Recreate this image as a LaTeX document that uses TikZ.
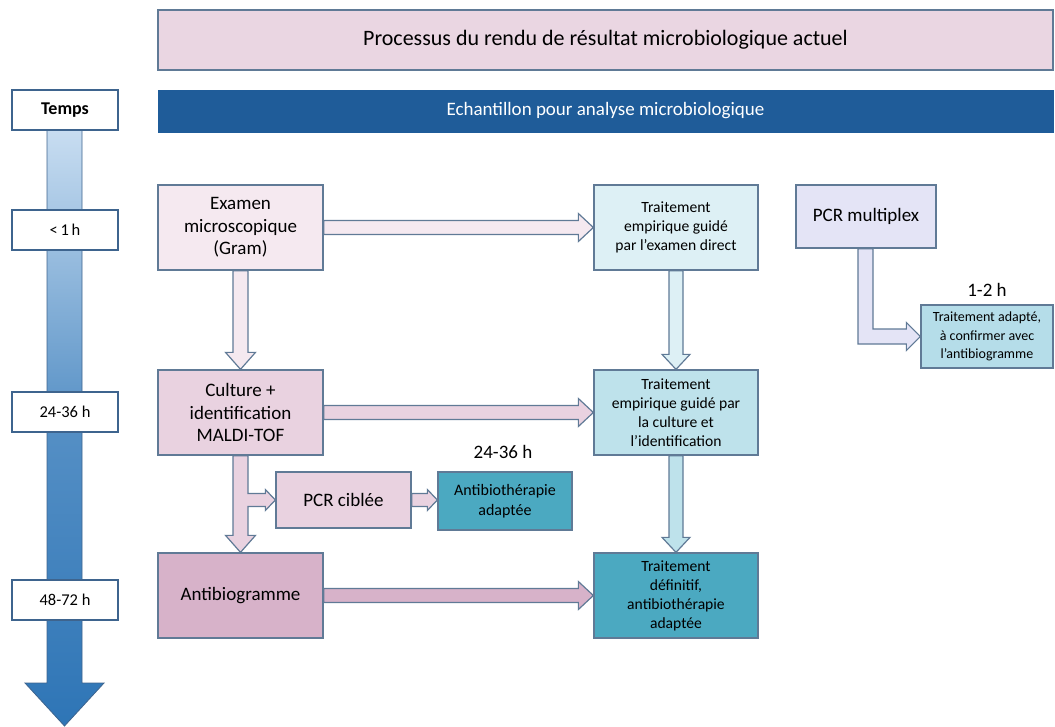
\documentclass[tikz,border=0pt]{standalone}
\usepackage{fontspec}
\setmainfont{Carlito}
\usepackage{xcolor}
\usetikzlibrary{calc}
\definecolor{titlepink}{RGB}{234, 214, 226}
\definecolor{barblue}{RGB}{31, 92, 153}
\definecolor{boxline}{RGB}{96, 122, 150}
\definecolor{timeline}{RGB}{62, 100, 142}
\definecolor{timelight}{RGB}{200, 221, 241}
\definecolor{timedark}{RGB}{46, 117, 182}
\definecolor{examenpink}{RGB}{245, 233, 240}
\definecolor{culturepink}{RGB}{233, 210, 224}
\definecolor{antibiomauve}{RGB}{215, 178, 201}
\definecolor{tempcyan}{RGB}{221, 240, 245}
\definecolor{culturecyan}{RGB}{190, 226, 235}
\definecolor{adaptteal}{RGB}{75, 169, 193}
\definecolor{multilav}{RGB}{228, 228, 246}
\definecolor{quickcyan}{RGB}{181, 221, 233}

% horizontal block arrow: from, to, fill, half shaft, half head, head length
\newcommand{\hblock}[6]{%
  \draw[blockline,fill=#3] let \p1=(#1), \p2=(#2) in
    (\x1,\y1+#4pt) -- (\x2-#6pt,\y1+#4pt) -- (\x2-#6pt,\y1+#5pt) -- (\x2,\y1)
    -- (\x2-#6pt,\y1-#5pt) -- (\x2-#6pt,\y1-#4pt) -- (\x1,\y1-#4pt) -- cycle;}
% vertical block arrow (downwards)
\newcommand{\vblock}[6]{%
  \draw[blockline,fill=#3] let \p1=(#1), \p2=(#2) in
    (\x1-#4pt,\y1) -- (\x1-#4pt,\y2+#6pt) -- (\x1-#5pt,\y2+#6pt) -- (\x1,\y2)
    -- (\x1+#5pt,\y2+#6pt) -- (\x1+#4pt,\y2+#6pt) -- (\x1+#4pt,\y1) -- cycle;}

\begin{document}
\begin{tikzpicture}[x=1pt,y=-1pt,
    box/.style={draw=boxline,line width=1.3pt,align=center,inner sep=2pt},
    leftbox/.style={box,minimum width=165pt,minimum height=85pt,font=\fontsize{19}{22.5}\selectfont},
    treatbox/.style={box,minimum width=164pt,minimum height=85pt,font=\fontsize{15.6}{19}\selectfont},
    timebox/.style={draw=timeline,line width=1.2pt,fill=white,minimum width=106pt,minimum height=40pt,font=\fontsize{16.5}{19}\selectfont},
    delai/.style={font=\fontsize{19}{22}\selectfont},
    blockline/.style={draw=boxline,line width=1.2pt,line join=miter}]
  \useasboundingbox (0,0) rectangle (1055,726);

  % time axis
  \draw[draw=timeline,line width=0.8pt,top color=timelight,bottom color=timedark,middle color=timedark!75!timelight]
    (47,130) -- (47,683) -- (25,683) -- (64.5,726) -- (104,683) -- (82,683) -- (82,130) -- cycle;
  \node[timebox,font=\fontsize{18}{21}\selectfont\bfseries] (temps) at (65,110) {Temps};
  \node[timebox] (tone) at (65,230) {<\,1\,h};
  \node[timebox] (ttwo) at (65,412) {24-36 h};
  \node[timebox] (tthree) at (65,600) {48-72 h};

  % headers
  \node[box,fill=titlepink,minimum width=895pt,minimum height=60pt,font=\fontsize{22}{26}\selectfont] (title) at (605.5,40) {Processus du rendu de résultat microbiologique actuel};
  \node[draw=barblue,fill=barblue,text=white,minimum width=895pt,minimum height=42pt,font=\fontsize{19}{22}\selectfont] (echant) at (605.5,111) {Echantillon pour analyse microbiologique};

  % boxes
  \node[leftbox,fill=examenpink] (examen) at (240.5,227.5) {Examen\\microscopique\\(Gram)};
  \node[leftbox,fill=culturepink] (culture) at (240.5,412.5) {Culture +\\identification\\MALDI-TOF};
  \node[leftbox,fill=antibiomauve] (antibiogramme) at (240.5,595.5) {Antibiogramme};
  \node[treatbox,fill=tempcyan] (empdirect) at (676,227.5) {Traitement\\empirique guidé\\par l’examen direct};
  \node[treatbox,fill=culturecyan] (empculture) at (676,412.5) {Traitement\\empirique guidé par\\la culture et\\l’identification};
  \node[treatbox,fill=adaptteal] (definitif) at (676,595.5) {Traitement\\définitif,\\antibiothérapie\\adaptée};
  \node[box,fill=culturepink,minimum width=135pt,minimum height=56pt,font=\fontsize{19}{22}\selectfont] (pcrciblee) at (343.5,500) {PCR ciblée};
  \node[box,fill=adaptteal,minimum width=134pt,minimum height=58pt,font=\fontsize{16}{19.5}\selectfont] (antibiotherapie) at (505,501) {Antibiothérapie\\adaptée};
  \node[box,fill=multilav,minimum width=140pt,minimum height=63pt,font=\fontsize{19}{22}\selectfont] (pcrmultiplex) at (866,216.5) {PCR multiplex};
  \node[box,fill=quickcyan,minimum width=132pt,minimum height=63pt,font=\fontsize{14}{18.5}\selectfont] (adapte) at (987,336.5) {Traitement adapté,\\à confirmer avec\\l’antibiogramme};

  \node[delai] (delaipcr) at (503,452) {24-36 h};
  \node[delai] (delaimulti) at (987,290) {1-2 h};

  % arrows
  \hblock{examen.east}{empdirect.west}{examenpink}{7}{14}{15}
  \hblock{culture.east}{empculture.west}{culturepink}{7}{14}{15}
  \hblock{antibiogramme.east}{definitif.west}{antibiomauve}{7}{14}{15}
  \vblock{examen.south}{culture.north}{examenpink}{7.5}{15}{17}
  \vblock{empdirect.south}{empculture.north}{tempcyan}{7}{14}{15}
  \vblock{empculture.south}{definitif.north}{culturecyan}{7}{14}{15}
  \hblock{pcrciblee.east}{antibiotherapie.west}{culturepink}{6.5}{10.5}{10}
  % culture down to antibiogramme, with a branch to PCR ciblee
  \draw[blockline,fill=culturepink] let \p1=(culture.south), \p2=(antibiogramme.north), \p3=(pcrciblee.west) in
    (\x1-7.5pt,\y1) -- (\x1-7.5pt,\y2+17pt) -- (\x1-15pt,\y2+17pt) -- (\x1,\y2) -- (\x1+15pt,\y2+17pt)
    -- (\x1+7.5pt,\y2+17pt) -- (\x1+7.5pt,\y3-6.5pt) -- (\x3-10pt,\y3-6.5pt) -- (\x3-10pt,\y3-10.5pt)
    -- (\x3,\y3) -- (\x3-10pt,\y3+10.5pt) -- (\x3-10pt,\y3+6.5pt) -- (\x1+7.5pt,\y3+6.5pt) -- (\x1+7.5pt,\y1) -- cycle;
  % PCR multiplex to the quick treatment
  \draw[blockline,fill=multilav] let \p1=(pcrmultiplex.south), \p2=(adapte.west) in
    (\x1-8pt,\y1) -- (\x1-8pt,\y2-7.5pt) -- (\x2-14pt,\y2-7.5pt) -- (\x2-14pt,\y2-14pt) -- (\x2,\y2)
    -- (\x2-14pt,\y2+14pt) -- (\x2-14pt,\y2+7.5pt) -- (\x1+7pt,\y2+7.5pt) -- (\x1+7pt,\y1) -- cycle;
\end{tikzpicture}
\end{document}
